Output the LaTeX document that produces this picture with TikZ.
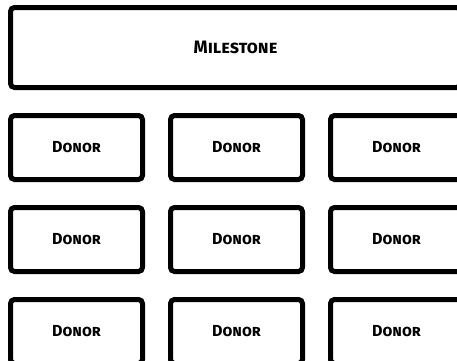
\documentclass[tikz,border=0pt]{standalone}
\usepackage{fontspec}
\setmainfont{Fira Sans}
\usetikzlibrary{positioning}
\tikzset{
  milebox/.style={rectangle, rounded corners=4pt, draw=black, line width=5pt, fill=white,
                  minimum width=450pt, minimum height=80pt,
                  font=\fontsize{18}{20}\selectfont\bfseries\scshape},
  donorbox/.style={rectangle, rounded corners=4pt, draw=black, line width=5pt, fill=white,
                   minimum width=132pt, minimum height=64pt,
                   font=\fontsize{16}{18}\selectfont\bfseries\scshape},
}
\begin{document}
\begin{tikzpicture}[node distance=23pt]
  \useasboundingbox (0,0) rectangle (457pt,-360pt);
  \clip (0,0) rectangle (457pt,-360pt);
  \node[milebox] (m) at (235.5pt,-47.5pt) {Milestone};
  % donor grid
  \node[donorbox, below=of m.south west, anchor=north west] (d11) {Donor};
  \node[donorbox, right=of d11] (d12) {Donor};
  \node[donorbox, right=of d12] (d13) {Donor};
  \node[donorbox, below=of d11] (d21) {Donor};
  \node[donorbox, right=of d21] (d22) {Donor};
  \node[donorbox, right=of d22] (d23) {Donor};
  \node[donorbox, below=of d21] (d31) {Donor};
  \node[donorbox, right=of d31] (d32) {Donor};
  \node[donorbox, right=of d32] (d33) {Donor};
\end{tikzpicture}
\end{document}
